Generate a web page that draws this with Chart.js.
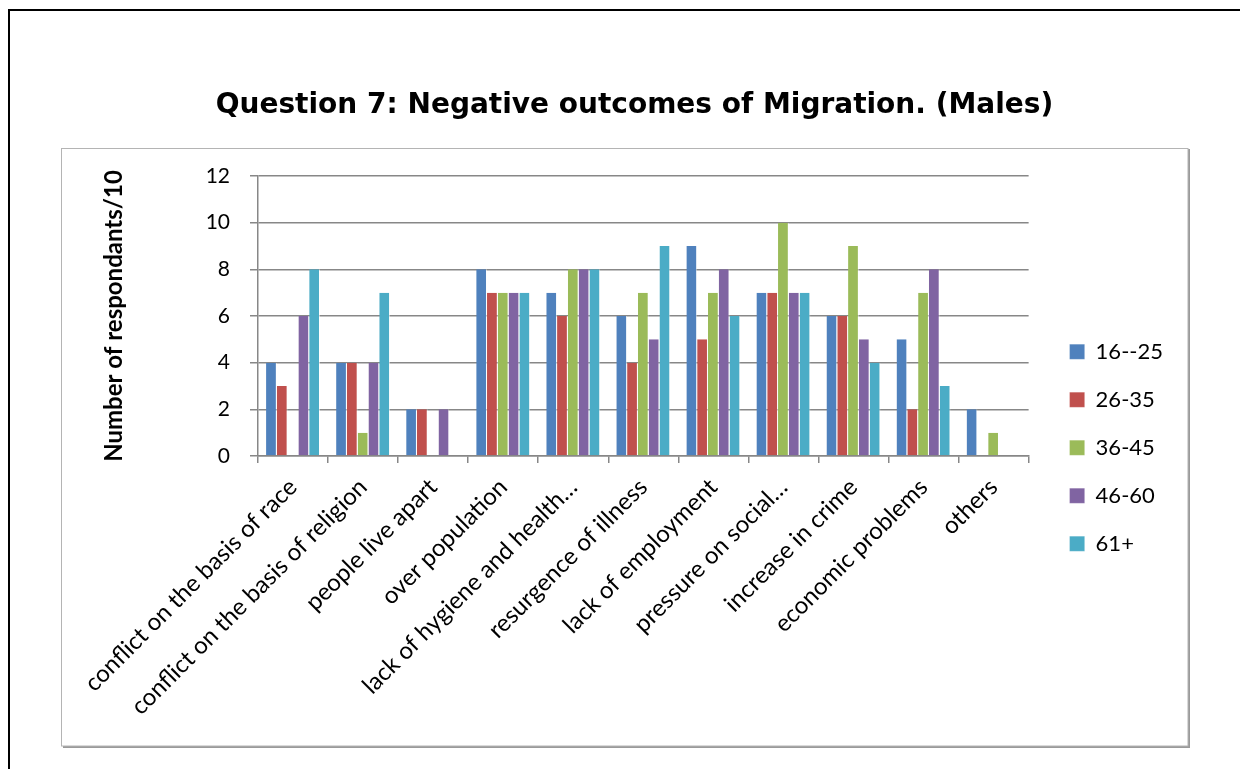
<!DOCTYPE html>
<html>
<head>
<meta charset="utf-8">
<script src="https://cdn.jsdelivr.net/npm/chart.js@4.4.1/dist/chart.umd.min.js"></script>
<style>
  html, body { margin: 0; padding: 0; background: #fff; }
  #wrap { width: 1240px; height: 769px; position: relative; }
</style>
</head>
<body>
<div id="wrap"><canvas id="chart"></canvas></div>
<script>
// categories (as labelled in the chart, truncated ones included)
const categories = [
  'conflict on the basis of race',
  'conflict on the basis of religion',
  'people live apart',
  'over population',
  'lack of hygiene and health…',
  'resurgence of illness',
  'lack of employment',
  'pressure on social…',
  'increase in crime',
  'economic problems',
  'others'
];

// respondents per age group
const age16to25 = [4, 4, 2, 8, 7, 6, 9, 7, 6, 5, 2];
const age26to35 = [3, 4, 2, 7, 6, 4, 5, 7, 6, 2, 0];
const age36to45 = [0, 1, 0, 7, 8, 7, 7, 10, 9, 7, 1];
const age46to60 = [6, 4, 2, 7, 8, 5, 8, 7, 5, 8, 0];
const age61plus = [8, 7, 0, 7, 8, 9, 6, 7, 4, 3, 0];

const seriesNames = ['16--25', '26-35', '36-45', '46-60', '61+'];
const seriesColors = ['#4F81BD', '#C0504D', '#9BBB59', '#8064A2', '#4BACC6'];

const yTicks = [0, 2, 4, 6, 8, 10, 12];

const gridGray = '#878787';

// page frame + grey chart box, like the original document
const framePlugin = {
  id: 'frame',
  beforeDraw(chart) {
    const ctx = chart.ctx;
    ctx.save();
    ctx.fillStyle = '#fff';
    ctx.fillRect(0, 0, chart.width, chart.height);
    // outer black border (top + left)
    ctx.strokeStyle = '#000';
    ctx.lineWidth = 2;
    ctx.beginPath();
    ctx.moveTo(1240, 10);
    ctx.lineTo(9, 10);
    ctx.lineTo(9, 769);
    ctx.stroke();
    // inner chart box with a little shadow
    ctx.strokeStyle = '#9a9a9a';
    ctx.lineWidth = 2;
    ctx.beginPath();
    ctx.moveTo(63, 747);
    ctx.lineTo(1189, 747);
    ctx.lineTo(1189, 149);
    ctx.stroke();
    ctx.strokeStyle = '#b4b4b4';
    ctx.lineWidth = 1;
    ctx.strokeRect(61.5, 148.5, 1126.5, 597.5);
    ctx.restore();
  }
};

const datasets = [age16to25, age26to35, age36to45, age46to60, age61plus].map((vals, i) => ({
  label: seriesNames[i],
  data: vals,
  backgroundColor: seriesColors[i],
  borderColor: 'rgba(255,255,255,0.55)',
  borderWidth: { top: 0, left: 0, bottom: 0, right: 1 },
  borderSkipped: false,
  categoryPercentage: 0.77,
  barPercentage: 1.0
}));

new Chart(document.getElementById('chart'), {
  type: 'bar',
  data: { labels: categories, datasets },
  options: {
    responsive: true,
    maintainAspectRatio: false,
    animation: false,
    devicePixelRatio: 1,
    layout: { padding: { left: 96, right: 67, top: 0, bottom: 0 } },
    plugins: {
      title: {
        display: true,
        text: 'Question 7: Negative outcomes of Migration. (Males)',
        color: '#000',
        font: { family: 'DejaVu Sans', size: 28, weight: 'bold' },
        padding: { top: 89, bottom: 53.4 }
      },
      legend: {
        position: 'right',
        align: 'center',
        title: { display: true, text: '', padding: { top: 112, bottom: 0 } },
        labels: {
          boxWidth: 15,
          boxHeight: 15,
          padding: 26,
          color: '#000',
          font: { family: 'Lato', size: 22 }
        }
      },
      tooltip: { enabled: false }
    },
    scales: {
      x: {
        grid: {
          display: true,
          drawOnChartArea: false,
          drawTicks: true,
          tickLength: 7,
          color: gridGray,
          lineWidth: 1.5
        },
        border: { color: gridGray, width: 1.5 },
        ticks: {
          autoSkip: false,
          minRotation: 45,
          maxRotation: 45,
          padding: 10,
          color: '#000',
          font: { family: 'Lato', size: 24 }
        },
        afterFit(scale) { scale.height = 313; }
      },
      y: {
        min: 0,
        max: 12,
        afterBuildTicks(scale) { scale.ticks = yTicks.map(v => ({ value: v })); },
        grid: { color: gridGray, lineWidth: 1.5, tickLength: 8 },
        border: { color: gridGray, width: 1.5 },
        ticks: {
          padding: 20,
          color: '#000',
          font: { family: 'Lato', size: 21 }
        },
        title: {
          display: true,
          text: 'Number of respondants/10',
          color: '#000',
          font: { family: 'Lato', size: 24, weight: 'bold' }
        },
        afterFit(scale) { scale.width = 162; }
      },
      gap: {
        type: 'linear',
        position: 'right',
        display: true,
        grid: { display: false },
        border: { display: false },
        ticks: { display: false },
        afterFit(scale) { scale.width = 15; }
      }
    }
  },
  plugins: [framePlugin]
});
</script>
</body>
</html>
